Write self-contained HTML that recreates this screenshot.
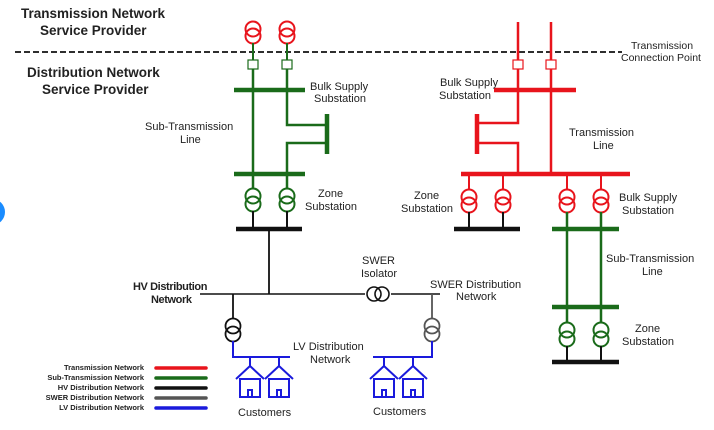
<!DOCTYPE html>
<html><head><meta charset="utf-8"><style>
html,body{margin:0;padding:0;background:#fff;}
svg{display:block;}
text{font-family:"Liberation Sans",sans-serif;fill:#222;}
</style></head><body>
<svg width="714" height="430" viewBox="0 0 714 430" xmlns="http://www.w3.org/2000/svg">
<circle cx="-8" cy="212" r="13" fill="#1a8cff"/>
<!-- titles -->
<text x="21" y="18" font-size="13.5" font-weight="bold">Transmission Network</text>
<text x="40" y="35" font-size="13.5" font-weight="bold">Service Provider</text>
<text x="27" y="77" font-size="13.5" font-weight="bold">Distribution Network</text>
<text x="42" y="94" font-size="13.5" font-weight="bold">Service Provider</text>
<line x1="15" y1="52" x2="622" y2="52" stroke="#111" stroke-width="1.8" stroke-dasharray="6,3"/>
<text x="631" y="49" font-size="10.5">Transmission</text>
<text x="621" y="61" font-size="10.5">Connection Point</text>

<!-- LEFT: red transformers -->
<g fill="none" stroke="#e8141c" stroke-width="2">
<circle cx="253" cy="29" r="7.5"/><circle cx="253" cy="36" r="7.5"/>
<circle cx="287" cy="29" r="7.5"/><circle cx="287" cy="36" r="7.5"/>
</g>
<g stroke="#1a6b1a" fill="none">
<line x1="253" y1="43" x2="253" y2="60" stroke-width="2"/>
<line x1="287" y1="43" x2="287" y2="60" stroke-width="2"/>
<rect x="248" y="60" width="10" height="9" stroke-width="1.2"/>
<rect x="282" y="60" width="10" height="9" stroke-width="1.2"/>
<line x1="253" y1="69" x2="253" y2="188" stroke-width="2.5"/>
<polyline points="287,69 287,125 327,125" stroke-width="2.5"/>
<polyline points="327,143 287,143 287,188" stroke-width="2.5"/>
<line x1="327" y1="114" x2="327" y2="154" stroke-width="4.5"/>
<line x1="234" y1="90" x2="305" y2="90" stroke-width="4.5"/>
<line x1="234" y1="174" x2="305" y2="174" stroke-width="4.5"/>
<g stroke-width="2"><circle cx="253" cy="196" r="7.5"/><circle cx="253" cy="204" r="7.5"/>
<circle cx="287" cy="196" r="7.5"/><circle cx="287" cy="204" r="7.5"/></g>
</g>
<g stroke="#111" fill="none">
<line x1="253" y1="211" x2="253" y2="229" stroke-width="2"/>
<line x1="287" y1="211" x2="287" y2="229" stroke-width="2"/>
<line x1="236" y1="229" x2="302" y2="229" stroke-width="4.5"/>
<line x1="269" y1="229" x2="269" y2="294" stroke-width="1.8"/>
<line x1="200" y1="294" x2="365" y2="294" stroke-width="1.6"/>
<line x1="391" y1="294" x2="440" y2="294" stroke-width="1.6"/>
<circle cx="374" cy="294" r="7" stroke-width="1.6"/><circle cx="382" cy="294" r="7" stroke-width="1.6"/>
<line x1="233" y1="294" x2="233" y2="319" stroke-width="1.8"/>
<circle cx="233" cy="326" r="7.5" stroke-width="1.8"/><circle cx="233" cy="334" r="7.5" stroke-width="1.8"/>
</g>
<g stroke="#555" fill="none" stroke-width="1.8">
<line x1="432" y1="294" x2="432" y2="319"/>
<circle cx="432" cy="326" r="7.5"/><circle cx="432" cy="334" r="7.5"/>
</g>
<!-- LV -->
<g stroke="#1a1adc" fill="none" stroke-width="2">
<polyline points="233,341 233,357 290,357"/>
<polyline points="432,341 432,357 373,357"/>
<line x1="250" y1="357" x2="250" y2="366"/><line x1="279" y1="357" x2="279" y2="366"/>
<line x1="384" y1="357" x2="384" y2="366"/><line x1="413" y1="357" x2="413" y2="366"/>
<g id="h1"><polyline points="236,379 250,366 264,379"/><rect x="240" y="379" width="20" height="18"/><rect x="248" y="390" width="4" height="7"/></g>
<g transform="translate(29,0)"><polyline points="236,379 250,366 264,379"/><rect x="240" y="379" width="20" height="18"/><rect x="248" y="390" width="4" height="7"/></g>
<g transform="translate(134,0)"><polyline points="236,379 250,366 264,379"/><rect x="240" y="379" width="20" height="18"/><rect x="248" y="390" width="4" height="7"/></g>
<g transform="translate(163,0)"><polyline points="236,379 250,366 264,379"/><rect x="240" y="379" width="20" height="18"/><rect x="248" y="390" width="4" height="7"/></g>
</g>

<!-- RIGHT red -->
<g stroke="#e8141c" fill="none">
<line x1="518" y1="22" x2="518" y2="60" stroke-width="2.5"/>
<line x1="551" y1="22" x2="551" y2="60" stroke-width="2.5"/>
<rect x="513" y="60" width="10" height="9" stroke-width="1.2"/>
<rect x="546" y="60" width="10" height="9" stroke-width="1.2"/>
<polyline points="518,69 518,123 477,123" stroke-width="2.5"/>
<polyline points="477,143 518,143 518,174" stroke-width="2.5"/>
<line x1="551" y1="69" x2="551" y2="174" stroke-width="2.5"/>
<line x1="477" y1="114" x2="477" y2="154" stroke-width="4.5"/>
<line x1="494" y1="90" x2="576" y2="90" stroke-width="4.5"/>
<line x1="461" y1="174" x2="630" y2="174" stroke-width="4.5"/>
<g stroke-width="2">
<line x1="469" y1="174" x2="469" y2="190"/><line x1="503" y1="174" x2="503" y2="190"/>
<line x1="567" y1="174" x2="567" y2="190"/><line x1="601" y1="174" x2="601" y2="190"/>
<circle cx="469" cy="197" r="7.5"/><circle cx="469" cy="205" r="7.5"/>
<circle cx="503" cy="197" r="7.5"/><circle cx="503" cy="205" r="7.5"/>
<circle cx="567" cy="197" r="7.5"/><circle cx="567" cy="205" r="7.5"/>
<circle cx="601" cy="197" r="7.5"/><circle cx="601" cy="205" r="7.5"/>
</g></g>
<g stroke="#111" fill="none">
<line x1="469" y1="212" x2="469" y2="229" stroke-width="2"/><line x1="503" y1="212" x2="503" y2="229" stroke-width="2"/>
<line x1="454" y1="229" x2="520" y2="229" stroke-width="4.5"/>
</g>
<g stroke="#1a6b1a" fill="none">
<line x1="567" y1="212" x2="567" y2="323" stroke-width="2.5"/><line x1="601" y1="212" x2="601" y2="323" stroke-width="2.5"/>
<line x1="552" y1="229" x2="619" y2="229" stroke-width="4.5"/>
<line x1="552" y1="307" x2="619" y2="307" stroke-width="4.5"/>
<g stroke-width="2"><circle cx="567" cy="330" r="7.5"/><circle cx="567" cy="339" r="7.5"/>
<circle cx="601" cy="330" r="7.5"/><circle cx="601" cy="339" r="7.5"/></g>
</g>
<g stroke="#111" fill="none">
<line x1="567" y1="346" x2="567" y2="362" stroke-width="2"/><line x1="601" y1="346" x2="601" y2="362" stroke-width="2"/>
<line x1="552" y1="362" x2="619" y2="362" stroke-width="4.5"/>
</g>

<!-- labels -->
<g font-size="11">
<text x="310" y="90">Bulk Supply</text><text x="314" y="102">Substation</text>
<text x="145" y="130">Sub-Transmission</text><text x="180" y="143">Line</text>
<text x="318" y="197">Zone</text><text x="305" y="210">Substation</text>
<text x="133" y="290" font-weight="bold" letter-spacing="-0.4">HV Distribution</text><text x="151" y="303" font-weight="bold" letter-spacing="-0.4">Network</text>
<text x="362" y="264">SWER</text><text x="361" y="277">Isolator</text>
<text x="430" y="288">SWER Distribution</text><text x="456" y="300">Network</text>
<text x="293" y="350">LV Distribution</text><text x="310" y="363">Network</text>
<text x="238" y="416">Customers</text><text x="373" y="415">Customers</text>
<text x="440" y="86">Bulk Supply</text><text x="439" y="99">Substation</text>
<text x="569" y="136">Transmission</text><text x="593" y="149">Line</text>
<text x="414" y="199">Zone</text><text x="401" y="212">Substation</text>
<text x="619" y="201">Bulk Supply</text><text x="622" y="214">Substation</text>
<text x="606" y="262">Sub-Transmission</text><text x="642" y="275">Line</text>
<text x="635" y="332">Zone</text><text x="622" y="345">Substation</text>
</g>
<!-- legend -->
<g font-size="7.5" font-weight="bold" text-anchor="end">
<text x="144" y="370">Transmission Network</text>
<text x="144" y="380">Sub-Transmission Network</text>
<text x="144" y="390">HV Distribution Network</text>
<text x="144" y="400">SWER Distribution Network</text>
<text x="144" y="410">LV Distribution Network</text>
</g>
<g stroke-width="3.5" stroke-linecap="round">
<line x1="156" y1="368" x2="206" y2="368" stroke="#e8141c"/>
<line x1="156" y1="378" x2="206" y2="378" stroke="#1a6b1a"/>
<line x1="156" y1="388" x2="206" y2="388" stroke="#111"/>
<line x1="156" y1="398" x2="206" y2="398" stroke="#555"/>
<line x1="156" y1="408" x2="206" y2="408" stroke="#1a1adc"/>
</g>
</svg>
</body></html>
